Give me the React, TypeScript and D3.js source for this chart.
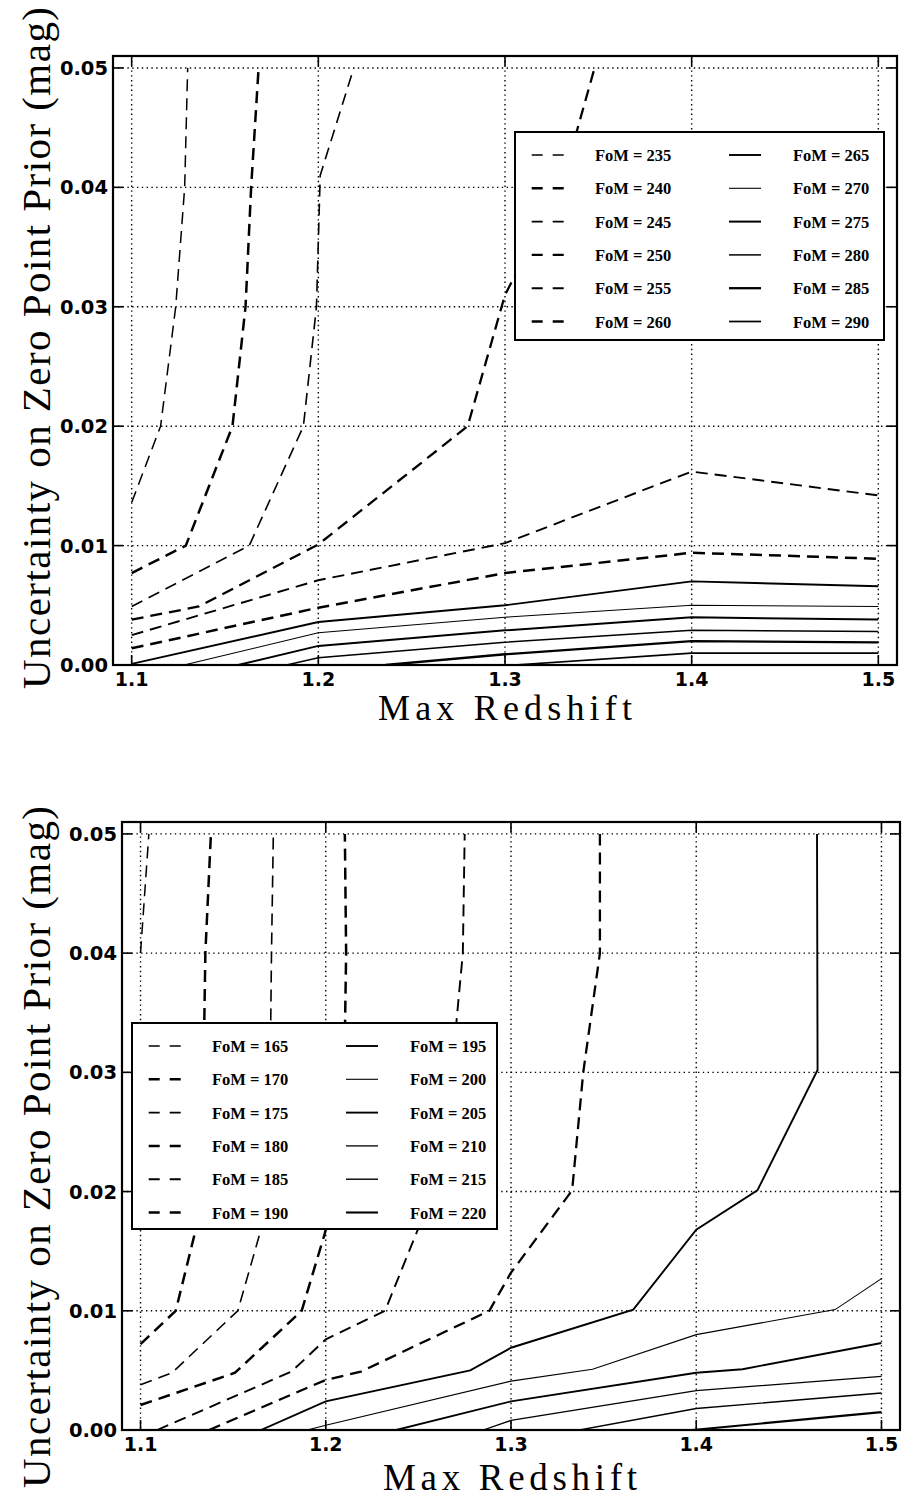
import React from "react";
import * as d3 from "d3";

// ---------- data ----------
const X_TICKS = [1.1, 1.2, 1.3, 1.4, 1.5];
const Y_TICKS = [0, 0.01, 0.02, 0.03, 0.04, 0.05];
const X_TICK_LABELS = ["1.1", "1.2", "1.3", "1.4", "1.5"];
const Y_TICK_LABELS = ["0.00", "0.01", "0.02", "0.03", "0.04", "0.05"];
const X_DOMAIN: [number, number] = [1.09, 1.51];
const Y_DOMAIN: [number, number] = [0, 0.051];
const X_LABEL = "Max Redshift";
const Y_LABEL = "Uncertainty on Zero Point Prior (mag)";

// top panel
const TOP_FOM = [235, 240, 245, 250, 255, 260, 265, 270, 275, 280, 285, 290];
const top235 = [[1.1, 0.0136], [1.1155, 0.02], [1.1236, 0.03], [1.1284, 0.04], [1.13, 0.05]];
const top240 = [[1.1, 0.0077], [1.129, 0.01], [1.154, 0.02], [1.161, 0.03], [1.164, 0.04], [1.168, 0.05]];
const top245 = [[1.1, 0.0049], [1.163, 0.01], [1.192, 0.02], [1.199, 0.03], [1.201, 0.041], [1.219, 0.05]];
const top250 = [[1.1, 0.0038], [1.136, 0.0049], [1.2, 0.0101], [1.28, 0.02], [1.3, 0.031], [1.33, 0.04], [1.348, 0.05]];
const top255 = [[1.1, 0.0025], [1.2, 0.0071], [1.3, 0.0102], [1.4, 0.0162], [1.5, 0.0142]];
const top260 = [[1.1, 0.0014], [1.2, 0.0048], [1.3, 0.0077], [1.4, 0.0094], [1.5, 0.0089]];
const top265 = [[1.1, 0.0001], [1.2, 0.0036], [1.3, 0.005], [1.4, 0.007], [1.5, 0.0066]];
const top270 = [[1.128, 0], [1.2, 0.0027], [1.3, 0.004], [1.4, 0.005], [1.5, 0.0049]];
const top275 = [[1.157, 0], [1.2, 0.0016], [1.3, 0.0029], [1.4, 0.004], [1.5, 0.0038]];
const top280 = [[1.183, 0], [1.2, 0.0006], [1.3, 0.0019], [1.4, 0.0029], [1.5, 0.0028]];
const top285 = [[1.236, 0], [1.3, 0.0009], [1.4, 0.002], [1.5, 0.0019]];
const top290 = [[1.305, 0], [1.4, 0.001], [1.5, 0.001]];
const TOP_SERIES = [top235, top240, top245, top250, top255, top260, top265, top270, top275, top280, top285, top290];

// bottom panel
const BOT_FOM = [165, 170, 175, 180, 185, 190, 195, 200, 205, 210, 215, 220];
const bot165 = [[1.1, 0.04], [1.1045, 0.05]];
const bot170 = [[1.1, 0.0072], [1.119, 0.01], [1.1298, 0.0168], [1.132, 0.02], [1.134, 0.03], [1.135, 0.04], [1.138, 0.05]];
const bot175 = [[1.1, 0.0038], [1.117, 0.0048], [1.1525, 0.01], [1.165, 0.0168], [1.167, 0.02], [1.17, 0.03], [1.1707, 0.04], [1.1717, 0.05]];
const bot180 = [[1.1, 0.0021], [1.151, 0.0048], [1.187, 0.01], [1.1995, 0.0165], [1.205, 0.02], [1.21, 0.03], [1.211, 0.04], [1.2103, 0.05]];
const bot185 = [[1.109, 0], [1.1815, 0.0049], [1.2, 0.0076], [1.232, 0.01], [1.258, 0.02], [1.268, 0.03], [1.274, 0.04], [1.275, 0.05]];
const bot190 = [[1.137, 0], [1.2, 0.0042], [1.219, 0.0049], [1.2883, 0.01], [1.3, 0.0132], [1.333, 0.0201], [1.339, 0.03], [1.348, 0.04], [1.348, 0.05]];
const bot195 = [[1.165, 0], [1.2, 0.0024], [1.278, 0.005], [1.3, 0.0069], [1.366, 0.0101], [1.4, 0.0168], [1.433, 0.0201], [1.4655, 0.0302], [1.4652, 0.05]];
const bot200 = [[1.19, 0], [1.2, 0.0004], [1.3, 0.0041], [1.344, 0.0051], [1.4, 0.008], [1.475, 0.0101], [1.5, 0.0127]];
const bot205 = [[1.238, 0], [1.3, 0.0024], [1.4, 0.0048], [1.425, 0.0051], [1.5, 0.0073]];
const bot210 = [[1.285, 0], [1.3, 0.0008], [1.4, 0.0033], [1.5, 0.0045]];
const bot215 = [[1.337, 0], [1.4, 0.0018], [1.5, 0.0031]];
const bot220 = [[1.398, 0], [1.5, 0.0015]];
const BOT_SERIES = [bot165, bot170, bot175, bot180, bot185, bot190, bot195, bot200, bot205, bot210, bot215, bot220];

// ---------- styles ----------
const TOP_STYLES = [
  { dash: true, w: 1.5 }, { dash: true, w: 2.5 }, { dash: true, w: 1.6 },
  { dash: true, w: 2.3 }, { dash: true, w: 1.9 }, { dash: true, w: 2.5 },
  { dash: false, w: 1.9 }, { dash: false, w: 1.1 }, { dash: false, w: 2.0 },
  { dash: false, w: 1.5 }, { dash: false, w: 2.3 }, { dash: false, w: 1.7 },
];
const BOT_STYLES = [
  { dash: true, w: 1.5 }, { dash: true, w: 2.5 }, { dash: true, w: 1.6 },
  { dash: true, w: 2.5 }, { dash: true, w: 1.9 }, { dash: true, w: 2.3 },
  { dash: false, w: 1.9 }, { dash: false, w: 1.1 }, { dash: false, w: 1.9 },
  { dash: false, w: 1.3 }, { dash: false, w: 1.4 }, { dash: false, w: 2.1 },
];

type PanelProps = {
  id: string;
  series: number[][][];
  fom: number[];
  styles: { dash: boolean; w: number }[];
  box: { left: number; right: number; top: number; bottom: number };
  legend: { x: number; y: number; w: number; h: number };
  xTickY: number;
  xLabel: { x: number; y: number; size: number };
  yLabel: { x: number; y: number; len: number };
};

const Panel = ({ id, series, fom, styles, box, legend, xTickY, xLabel, yLabel }: PanelProps) => {
  const x = d3.scaleLinear().domain(X_DOMAIN).range([box.left, box.right]);
  const y = d3.scaleLinear().domain(Y_DOMAIN).range([box.bottom, box.top]);
  const line = d3
    .line<number[]>()
    .x((d) => x(d[0]))
    .y((d) => y(d[1]));
  const tickLen = 10;
  const rowH = 33.3;
  return (
    <g>
      <defs>
        <clipPath id={`clip-${id}`}>
          <rect x={box.left} y={box.top} width={box.right - box.left} height={box.bottom - box.top} />
        </clipPath>
      </defs>
      {/* grid */}
      {X_TICKS.map((t) => (
        <line key={`gx${t}`} x1={x(t)} x2={x(t)} y1={box.top} y2={box.bottom} stroke="#000" strokeWidth={1.4} strokeDasharray="1.4,3.4" />
      ))}
      {Y_TICKS.map((t) => (
        <line key={`gy${t}`} x1={box.left} x2={box.right} y1={y(t)} y2={y(t)} stroke="#000" strokeWidth={1.4} strokeDasharray="1.4,3.4" />
      ))}
      {/* curves */}
      <g clipPath={`url(#clip-${id})`}>
        {series.map((s, i) => (
          <path
            key={`s${i}`}
            d={line(s) || ""}
            fill="none"
            stroke="#000"
            strokeWidth={styles[i].w}
            strokeDasharray={styles[i].dash ? "12,7" : undefined}
          />
        ))}
      </g>
      {/* ticks */}
      {X_TICKS.map((t) => (
        <g key={`tx${t}`}>
          <line x1={x(t)} x2={x(t)} y1={box.bottom} y2={box.bottom - tickLen} stroke="#000" strokeWidth={1.6} />
          <line x1={x(t)} x2={x(t)} y1={box.top} y2={box.top + tickLen} stroke="#000" strokeWidth={1.6} />
        </g>
      ))}
      {Y_TICKS.map((t) => (
        <g key={`ty${t}`}>
          <line x1={box.left} x2={box.left + tickLen} y1={y(t)} y2={y(t)} stroke="#000" strokeWidth={1.6} />
          <line x1={box.right} x2={box.right - tickLen} y1={y(t)} y2={y(t)} stroke="#000" strokeWidth={1.6} />
        </g>
      ))}
      {/* spines */}
      <rect x={box.left} y={box.top} width={box.right - box.left} height={box.bottom - box.top} fill="none" stroke="#000" strokeWidth={2.2} />
      {/* tick labels */}
      {X_TICKS.map((t, i) => (
        <text key={`lx${t}`} x={x(t)} y={xTickY} textAnchor="middle" fontFamily="DejaVu Sans" fontWeight="bold" fontSize={19}>
          {X_TICK_LABELS[i]}
        </text>
      ))}
      {Y_TICKS.map((t, i) => (
        <text key={`ly${t}`} x={box.left - 5} y={y(t) + 7} textAnchor="end" fontFamily="DejaVu Sans" fontWeight="bold" fontSize={19.5}>
          {Y_TICK_LABELS[i]}
        </text>
      ))}
      {/* axis labels */}
      <text x={xLabel.x} y={xLabel.y} textAnchor="middle" fontFamily="Liberation Serif" fontSize={xLabel.size} textLength={254} lengthAdjust="spacing">
        {X_LABEL}
      </text>
      <text
        transform={`translate(${yLabel.x},${yLabel.y}) rotate(-90)`}
        textAnchor="middle"
        fontFamily="Liberation Serif"
        fontSize={41}
        textLength={yLabel.len}
        lengthAdjust="spacing"
      >
        {Y_LABEL}
      </text>
      {/* legend */}
      <g>
        <rect x={legend.x} y={legend.y} width={legend.w} height={legend.h} fill="#fff" stroke="#000" strokeWidth={2} />
        {fom.map((f, i) => {
          const col = i < 6 ? 0 : 1;
          const row = i % 6;
          const cy = legend.y + 23 + row * rowH;
          const hx = legend.x + (col === 0 ? 16.7 : 214);
          const tx = legend.x + (col === 0 ? 80 : 278);
          return (
            <g key={`lg${f}`}>
              <line
                x1={hx}
                x2={hx + 32}
                y1={cy}
                y2={cy}
                stroke="#000"
                strokeWidth={styles[i].w}
                strokeDasharray={styles[i].dash ? "11,10" : undefined}
              />
              <text x={tx} y={cy + 6} fontFamily="Liberation Serif" fontWeight="bold" fontSize={16.5}>
                {`FoM = ${f}`}
              </text>
            </g>
          );
        })}
      </g>
    </g>
  );
};

export default function App() {
  return (
    <svg width={904} height={1499} style={{ display: "block", position: "absolute", left: 0, top: 0, background: "#fff" }}>
      <rect x={0} y={0} width={904} height={1499} fill="#fff" />
      <Panel
        id="top"
        series={TOP_SERIES}
        fom={TOP_FOM}
        styles={TOP_STYLES}
        box={{ left: 113, right: 897, top: 56, bottom: 665 }}
        legend={{ x: 515, y: 132, w: 369, h: 208 }}
        xTickY={686}
        xLabel={{ x: 505, y: 720, size: 36 }}
        yLabel={{ x: 50, y: 348, len: 682 }}
      />
      <Panel
        id="bot"
        series={BOT_SERIES}
        fom={BOT_FOM}
        styles={BOT_STYLES}
        box={{ left: 122, right: 900, top: 822, bottom: 1430 }}
        legend={{ x: 132, y: 1023, w: 365, h: 206 }}
        xTickY={1451}
        xLabel={{ x: 510, y: 1490, size: 37 }}
        yLabel={{ x: 50, y: 1147, len: 682 }}
      />
    </svg>
  );
}
